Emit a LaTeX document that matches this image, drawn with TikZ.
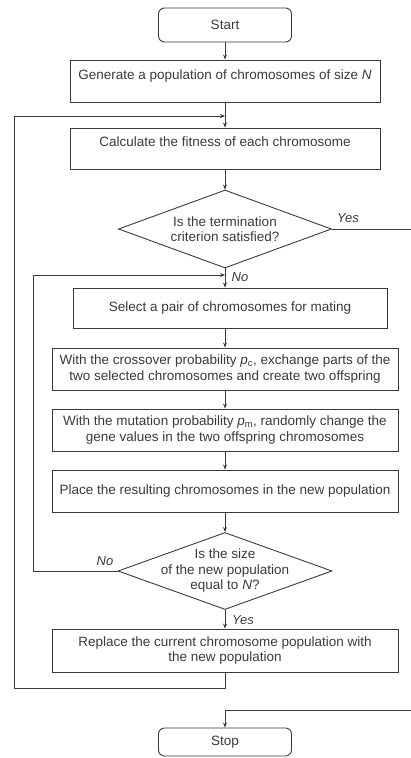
\documentclass[tikz,border=0pt]{standalone}
\usepackage{fontspec}
\setmainfont{Liberation Sans}
\usetikzlibrary{shapes.geometric,arrows.meta}
\definecolor{ink}{HTML}{3A3A3A}
\begin{document}
\begin{tikzpicture}[x=1pt,y=-1pt,
  every node/.style={text=ink,font=\fontsize{13.5}{15.5}\selectfont},
  proc/.style={draw=ink,line width=.9pt,minimum height=42pt,align=center,inner sep=2pt},
  high/.style={text height=10pt,text depth=14pt},
  term/.style={proc,rounded corners=6pt,minimum width=133pt},
  test/.style={draw=ink,line width=.9pt,diamond,inner sep=0pt},
  flow/.style={draw=ink,line width=.9pt,-{Stealth[length=5pt,width=4pt]}},
  lbl/.style={font=\fontsize{13}{15.5}\selectfont\itshape}]
\useasboundingbox (0,0) rectangle (411,758);
\node[term,minimum height=34pt] (start) at (225,25) {Start};
\node[proc,high,minimum width=310pt] (gen) at (225,81) {Generate a population of chromosomes of size \textit{N}};
\node[proc,high,minimum width=310pt,minimum height=41pt] (fit) at (225,148.5) {Calculate the fitness of each chromosome};
\node[test,minimum width=213pt,minimum height=78pt,label={[align=center]center:Is the termination\\criterion satisfied?}] (crit) at (225,229) {};
\node[proc,minimum width=314pt,minimum height=40pt] (pair) at (230,308) {Select a pair of chromosomes for mating};
\node[proc,minimum width=346pt] (cross) at (225,369) {With the crossover probability {\itshape p}\textsubscript{c}, exchange parts of the\\two selected chromosomes and create two offspring};
\node[proc,minimum width=346pt] (mut) at (225,430) {With the mutation probability {\itshape p}\textsubscript{m}, randomly change the\\gene values in the two offspring chromosomes};
\node[proc,minimum width=346pt] (place) at (225,491) {Place the resulting chromosomes in the new population};
\node[test,minimum width=214pt,minimum height=77pt,label={[align=center]center:Is the size\\of the new population\\equal to \textit{N}?}] (size) at (225,571) {};
\node[proc,minimum width=346pt,minimum height=43pt] (repl) at (225,650.5) {Replace the current chromosome population with\\the new population};
\node[term,minimum height=28pt] (stop) at (225,742) {Stop};
\coordinate (back) at (225,116);
\coordinate (outer) at (14,688);
\coordinate (again) at (225,275);
\coordinate (inner) at (33,275);
\coordinate (edge) at (414,710);
\draw[flow] (start) -- (gen);
\draw[flow] (gen) -- (fit);
\draw[flow] (fit) -- (crit);
\draw[flow] (crit.south) -- (crit.south |- pair.north);
\draw[flow] (crit.south |- pair.south) -- (cross);
\draw[flow] (cross) -- (mut);
\draw[flow] (mut) -- (place);
\draw[flow] (place) -- (size);
\draw[flow] (size) -- (repl);
\draw[flow] (repl.south) |- (outer) |- (back);
\draw[flow] (size.west) -| (inner) -- (again);
\draw[flow] (crit.east) -| (edge) -| (stop.north);
\node[lbl] (yes1) at (348,218) {Yes};
\node[lbl] (no1) at (240,277) {No};
\node[lbl] (no2) at (105,561) {No};
\node[lbl] (yes2) at (243,620) {Yes};
\end{tikzpicture}
\end{document}
